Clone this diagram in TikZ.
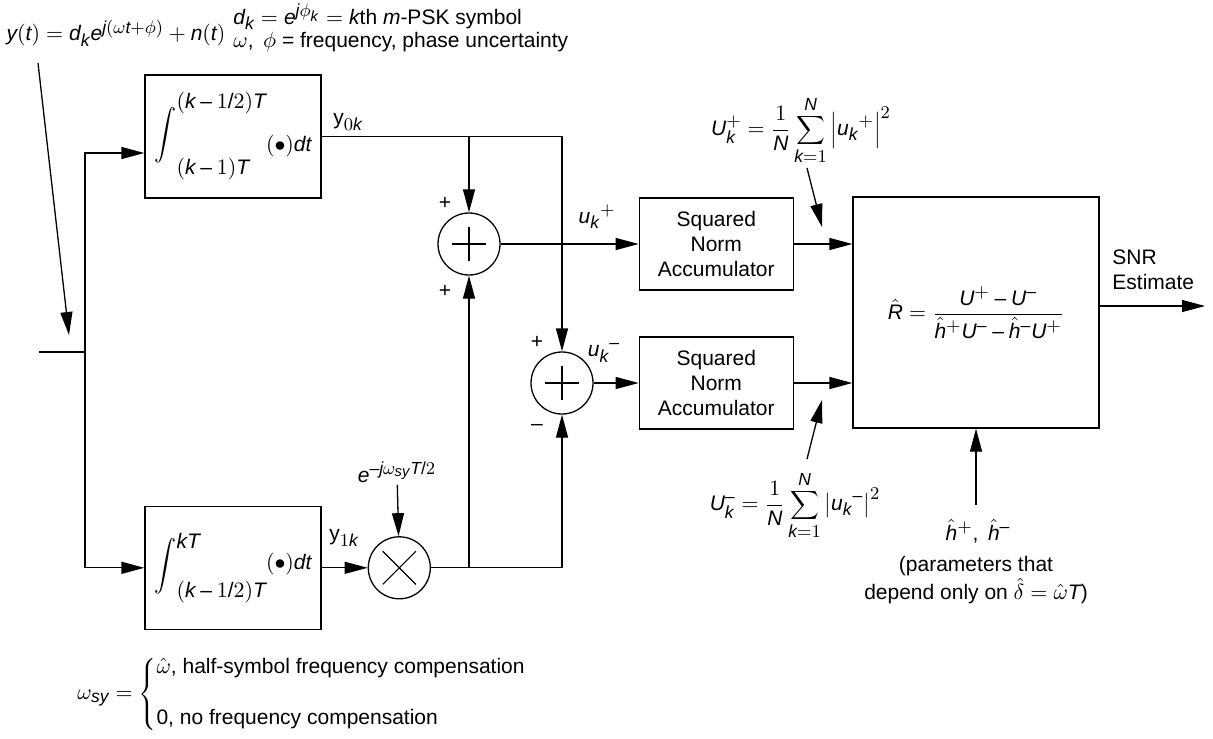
\documentclass[tikz,border=0pt]{standalone}
\usepackage{fontspec}
\setmainfont{Liberation Sans}
\usepackage[italic]{mathastext}
\usepackage{tikz}
\usetikzlibrary{arrows.meta,positioning,calc}
\newcommand{\bigint}{\scalebox{1.1}[1.25]{$\displaystyle\int$}}

\begin{document}
\begin{tikzpicture}[
  x=0.5pt, y=-0.5pt, >={Triangle[length=11.5pt,width=6pt]},
  font=\fontsize{10.5}{12.5}\selectfont,
  blk/.style={draw, line width=0.65pt, align=center, inner sep=2pt},
  intbox/.style={blk, minimum width=88pt, minimum height=61.5pt},
  accbox/.style={blk, minimum width=77pt, minimum height=46pt},
  summ/.style={draw, circle, line width=0.65pt, minimum size=31pt, inner sep=0pt},
  plus/.style={summ, path picture={\draw[line width=0.55pt]
    (path picture bounding box.center) ++(-8.3pt,0pt) -- ++(16.6pt,0pt)
    (path picture bounding box.center) ++(0pt,-8.3pt) -- ++(0pt,16.6pt);}},
  cross/.style={summ, path picture={\draw[line width=0.55pt]
    (path picture bounding box.center) ++(-8.3pt,-8.3pt) -- ++(16.6pt,16.6pt)
    (path picture bounding box.center) ++(-8.3pt,8.3pt) -- ++(16.6pt,-16.6pt);}},
  e/.style={->, line width=0.65pt},
  l/.style={line width=0.65pt},
  lbl/.style={inner sep=1pt},
]
\useasboundingbox (0,0) rectangle (1213,738);
\node[lbl] (yt) at (116,33) {$y(t) = d_k e^{j(\omega t + \phi)} + n(t)$};
\node[lbl, anchor=west] (dk) at (231,17) {$d_k = e^{j\phi_k} = k$th $m$-PSK symbol};
\node[lbl, anchor=west] (wphi) at (231,42) {$\omega,\ \phi$ = frequency, phase uncertainty};
\coordinate (ytail) at (38,63);
\coordinate (ytip) at (69,335);
\coordinate (in) at (39,352);
\coordinate (split) at (85,352);
\node[intbox] (int0) at (233,136.5)
  {\bigint\begin{tabular}{@{}l@{}}$(k-1/2)T$\\[20pt]$(k-1)T$\end{tabular}\raisebox{-5pt}{$(\bullet)dt$}};
\node[intbox, below=153.5pt of int0] (int1)
  {\bigint\begin{tabular}{@{}l@{}}$kT$\\[12pt]$(k-1/2)T$\end{tabular}\raisebox{2pt}{$(\bullet)dt$}};
\node[plus] (sum1) at (469,244) {};
\node[plus] (sum2) at (562,383) {};
\node[cross, right=23pt of int1] (mult) {};
\node[accbox, right=69pt of sum1] (sna1) {Squared\\Norm\\Accumulator};
\node[accbox, right=22.5pt of sum2] (sna2) {Squared\\Norm\\Accumulator};
\node[blk, minimum width=123pt, minimum height=115.5pt] (est) at (976,312.5)
  {$\hat{R} = \displaystyle\frac{U^{+} - U^{-}}{\hat{h}^{+}U^{-} - \hat{h}^{-}U^{+}}$};
\node[lbl] (y0k) at (348,122) {y$_{0k}$};
\node[lbl] (y1k) at (344,538) {y$_{1k}$};
\node[lbl] (expo) at (397,472) {$e^{-j\omega_{sy}T/2}$};
\node[lbl] (uplus) at (597,217) {${u_k}^{+}$};
\node[lbl] (uminus) at (604,353) {${u_k}^{-}$};
\node[lbl] (s1a) at (445,203) {+};
\node[lbl] (s1b) at (445,291) {+};
\node[lbl] (s2a) at (537,342) {+};
\node[lbl] (s2b) at (537,427) {$-$};
\node[lbl] (Uplus) at (801,130)
  {$U_k^{+} = \displaystyle\frac{1}{N}\sum_{k=1}^{N}\left|{u_k}^{+}\right|^{2}$};
\node[lbl] (Uminus) at (795,505)
  {$U_k^{-} = \displaystyle\frac{1}{N}\sum_{k=1}^{N}\left|{u_k}^{-}\right|^{2}$};
\node[lbl] (hpm) at (978,531) {$\hat{h}^{+},\ \hat{h}^{-}$};
\node[lbl, align=center] (param) at (976,580)
  {(parameters that\\depend only on $\hat{\delta} = \hat{\omega}T$)};
\node[lbl, align=left, anchor=west] (snr) at (1110,270) {SNR\\Estimate};
\node[lbl, anchor=west] (wsy) at (75,694)
  {$\omega_{sy} = \left\{\begin{array}{@{}l@{}}
    \hat{\omega}\mbox{, half-symbol frequency compensation}\\[13pt]
    \mbox{0, no frequency compensation}\end{array}\right.$};
\coordinate (uptail) at (807,168);
\coordinate (uptip) at (822,227);
\coordinate (umtail) at (807,459);
\coordinate (umtip) at (822,400);
\coordinate (htail) at (976,505);
\coordinate (out) at (1205,306);
\draw[e] (ytail) -- (ytip);
\draw[l] (in) -- (split);
\draw[e] (split) |- ($(int0.west)+(0,16.5)$);
\draw[e] (split) |- (int1.west);
\draw[e] (int0.east) -| (sum2.north);
\draw[e] (sum1 |- int0.east) -- (sum1.north);
\draw[e] (int1) -- (mult);
\draw[e] (mult.east) -| (sum2.south);
\draw[e] (sum1 |- mult.east) -- (sum1.south);
\draw[e] (sum1) -- (sna1);
\draw[e] (sum2) -- (sna2);
\draw[e] (sna1) -- (sna1 -| est.west);
\draw[e] (sna2) -- (sna2 -| est.west);
\draw[e] (expo) -- (mult);
\draw[e] (uptail) -- (uptip);
\draw[e] (umtail) -- (umtip);
\draw[e] (htail) -- (est.south);
\draw[e] ($(est.east)+(0,-6.5)$) -- (out);
\end{tikzpicture}
\end{document}
